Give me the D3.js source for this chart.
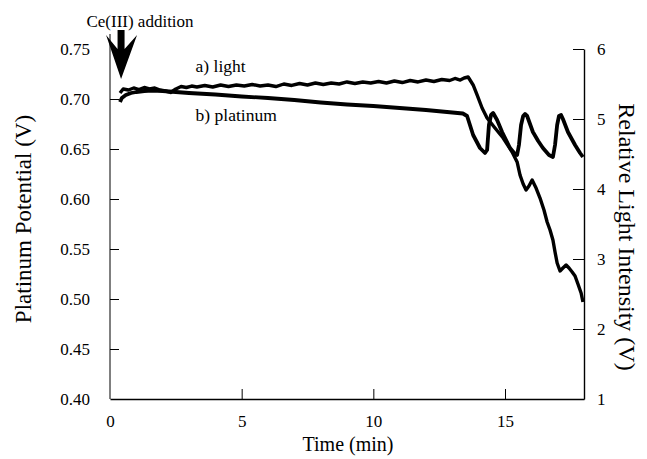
<!DOCTYPE html>
<html><head><meta charset="utf-8">
<script src="https://cdn.jsdelivr.net/npm/d3@7"></script>
<style>body{margin:0;background:#fff}svg{display:block}text{font-family:"Liberation Serif","Times New Roman",serif;fill:#000}</style>
</head><body><svg id="c" width="647" height="459"></svg>
<script>
// ---- data ----
const timeTicks = [0, 5, 10, 15];
const potTicks = [0.40, 0.45, 0.50, 0.55, 0.60, 0.65, 0.70, 0.75];
const lightTicks = [1, 2, 3, 4, 5, 6];

// a) light (Relative Light Intensity, right axis)
const lightTime = [0.38,0.5,0.7,0.9,1.1,1.3,1.5,1.7,1.9,2.1,2.3,2.5,2.7,2.9,3.1,3.3,3.6,3.9,4.2,4.5,4.8,5.1,5.4,5.7,6.0,6.3,6.6,6.9,7.2,7.5,7.8,8.1,8.4,8.7,9.0,9.3,9.6,9.9,10.2,10.5,10.8,11.1,11.4,11.7,12.0,12.3,12.6,12.9,13.1,13.3,13.45,13.6,13.79,13.94,14.13,14.32,14.62,14.93,15.27,15.46,15.57,15.69,15.80,15.91,16.03,16.18,16.33,16.48,16.60,16.71,16.82,16.90,16.98,17.09,17.20,17.32,17.43,17.55,17.66,17.77,17.89,17.96];
const lightValue = [5.371,5.429,5.414,5.443,5.421,5.450,5.429,5.443,5.414,5.400,5.379,5.429,5.464,5.450,5.471,5.457,5.479,5.457,5.486,5.464,5.486,5.471,5.493,5.471,5.486,5.464,5.500,5.479,5.507,5.486,5.514,5.493,5.514,5.500,5.529,5.507,5.529,5.514,5.536,5.514,5.543,5.521,5.550,5.529,5.557,5.536,5.564,5.550,5.579,5.557,5.586,5.600,5.486,5.343,5.157,5.014,4.871,4.729,4.529,4.386,4.200,4.071,3.986,4.043,4.129,4.014,3.871,3.700,3.529,3.414,3.271,3.100,2.943,2.829,2.871,2.914,2.871,2.814,2.757,2.643,2.514,2.386];

// b) platinum (Platinum Potential, left axis)
const platTime = [0.38,0.45,0.6,0.8,1.0,1.3,1.6,2.0,3,4,5,6,7,8,9,10,11,12,13,13.4,13.56,13.79,14.05,14.24,14.32,14.39,14.47,14.55,14.70,14.89,15.19,15.38,15.46,15.53,15.61,15.69,15.76,15.84,16.06,16.26,16.44,16.67,16.82,16.90,16.98,17.05,17.13,17.20,17.39,17.66,17.85,17.96];
const platValue = [0.697,0.701,0.704,0.706,0.707,0.708,0.7085,0.708,0.706,0.7045,0.7025,0.701,0.699,0.6965,0.6945,0.693,0.691,0.689,0.6865,0.6855,0.683,0.664,0.651,0.646,0.649,0.674,0.684,0.686,0.679,0.667,0.651,0.645,0.644,0.654,0.674,0.683,0.685,0.683,0.667,0.658,0.651,0.644,0.642,0.654,0.674,0.683,0.684,0.680,0.667,0.654,0.646,0.642];

// ---- chart ----
const svg = d3.select("#c");
const x = d3.scaleLinear().domain([0, 18]).range([110, 584]);
const yL = d3.scaleLinear().domain([0.40, 0.75]).range([399, 49]);
const yR = d3.scaleLinear().domain([1, 6]).range([399, 49]);

// bottom axis
const gx = svg.append("g").attr("transform", "translate(0,399)")
  .call(d3.axisBottom(x).tickValues(timeTicks).tickSize(-10).tickSizeOuter(0).tickPadding(16).tickFormat(d3.format("d")));
gx.select(".domain").attr("stroke-width", 1.4);
gx.selectAll(".tick line").filter(d => d === 0).remove();
gx.selectAll("text").attr("font-size", 17);

// left axis
const gl = svg.append("g").attr("transform", "translate(110,0)")
  .call(d3.axisLeft(yL).tickValues(potTicks).tickSize(-9).tickSizeOuter(0).tickPadding(20).tickFormat(d3.format(".2f")));
gl.select(".domain").remove();
gl.selectAll(".tick line").filter(d => d === 0.40 || d === 0.75).remove();
gl.selectAll("text").attr("font-size", 17);
svg.append("line").attr("x1", 110).attr("x2", 110).attr("y1", 34).attr("y2", 399).attr("stroke", "#000").attr("stroke-width", 1);

// right axis
const gr = svg.append("g").attr("transform", "translate(584,0)")
  .call(d3.axisRight(yR).tickValues(lightTicks).tickSize(-11).tickSizeOuter(0).tickPadding(13).tickFormat(d3.format("d")));
gr.select(".domain").attr("stroke-width", 1.4);
gr.selectAll(".tick line").filter(d => d === 1).remove();
gr.selectAll("text").attr("font-size", 17);

// axis titles
svg.append("text").attr("x", 348).attr("y", 451).attr("text-anchor", "middle").attr("font-size", 20).text("Time (min)");
svg.append("text").attr("transform", "translate(31,219) rotate(-90)").attr("text-anchor", "middle").attr("font-size", 23).text("Platinum Potential (V)");
svg.append("text").attr("transform", "translate(619,237) rotate(90)").attr("text-anchor", "middle").attr("font-size", 24).text("Relative Light Intensity (V)");

// lines
const lightData = lightTime.map((t, i) => [t, lightValue[i]]);
const platData = platTime.map((t, i) => [t, platValue[i]]);
svg.append("path").datum(platData).attr("fill", "none").attr("stroke", "#000").attr("stroke-width", 3.8).attr("stroke-linejoin", "round")
  .attr("d", d3.line().x(d => x(d[0])).y(d => yL(d[1])));
svg.append("path").datum(lightData).attr("fill", "none").attr("stroke", "#000").attr("stroke-width", 3.4).attr("stroke-linejoin", "round")
  .attr("d", d3.line().x(d => x(d[0])).y(d => yR(d[1])));

// labels
svg.append("text").attr("x", x(3.25)).attr("y", 72).attr("font-size", 17.5).text("a) light");
svg.append("text").attr("x", x(3.25)).attr("y", 121).attr("font-size", 17.5).text("b) platinum");
svg.append("text").attr("x", 140).attr("y", 27).attr("text-anchor", "middle").attr("font-size", 17).text("Ce(III) addition");

// arrow
const ax = x(0.42);
svg.append("path").attr("fill", "#000")
  .attr("d", `M${ax-3.5},30 L${ax+3.5},30 L${ax+3.5},49 L${ax+16},35 L${ax},79 L${ax-15},35 L${ax-3.5},49 Z`);
</script></body></html>
